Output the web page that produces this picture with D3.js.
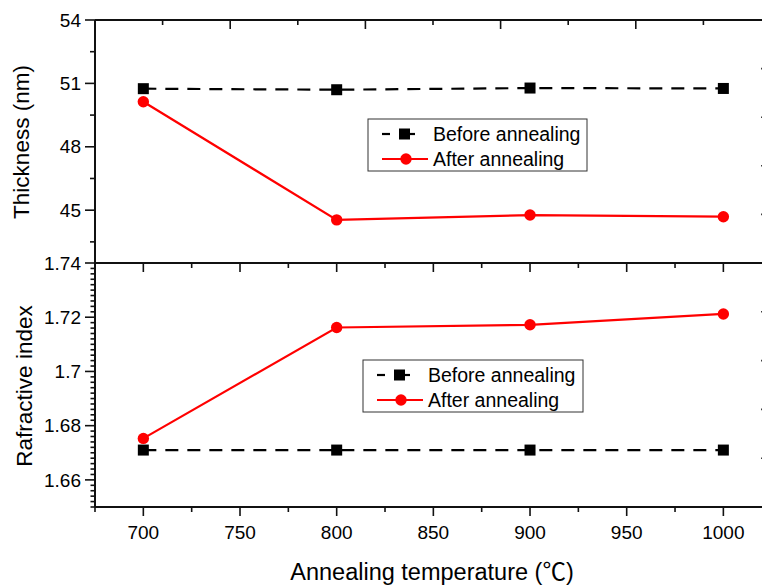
<!DOCTYPE html>
<html>
<head>
<meta charset="utf-8">
<script src="https://cdn.jsdelivr.net/npm/d3@7"></script>
<style>
  html, body { margin: 0; padding: 0; background: #fff; }
  svg { display: block; font-family: "Liberation Sans", Arial, "Noto Sans CJK SC", sans-serif; }
</style>
</head>
<body>
<svg id="chart" width="762" height="585"></svg>
<script>
// ---- data ----
const temps = [700, 800, 900, 1000];
const thickBefore = [50.75, 50.70, 50.78, 50.76];
const thickAfter = [50.13, 44.54, 44.77, 44.69];
const riBefore = [1.671, 1.671, 1.671, 1.671];
const riAfter = [1.6753, 1.7162, 1.7172, 1.7212];
const seriesNames = ["Before annealing", "After annealing"];
const xMajorTicks = [700, 750, 800, 850, 900, 950, 1000];
const xMinorTicks = [675, 725, 775, 825, 875, 925, 975, 1025];
const thickMajorTicks = [45, 48, 51, 54];
const thickMinorTicks = [43.5, 46.5, 49.5, 52.5];
const riMajorTicks = [1.66, 1.68, 1.70, 1.72, 1.74];
const riTickLabels = ["1.66", "1.68", "1.7", "1.72", "1.74"];
const riMinorTicks = d3.range(0, 46).map(i => +(1.65 + i * 0.002).toFixed(3)).filter(v => !riMajorTicks.some(m => Math.abs(m - v) < 1e-6));

const svg = d3.select("#chart");
const L = 95, R = 771.7, T = 20, MID = 263, B = 507;

const x = d3.scaleLinear().domain([675, 1025]).range([L, R]);
const yT = d3.scaleLinear().domain([42.5, 54]).range([MID, T]);
const yB = d3.scaleLinear().domain([1.65, 1.74]).range([B, MID]);
// secondary (unlabelled) axes from the composite figure
const xTop = d3.scaleLinear().domain([0, 10]).range([L, 771]);
const yRT = d3.scaleLinear().domain([0, 5]).range([MID, T]);
const yRB = d3.scaleLinear().domain([0, 5]).range([B, MID]);

const AX = "#111";
const g = svg.append("g");

// axis lines
g.append("line").attr("x1", L).attr("x2", 762).attr("y1", T).attr("y2", T).attr("stroke", AX).attr("stroke-width", 2);
g.append("line").attr("x1", L).attr("x2", 762).attr("y1", MID).attr("y2", MID).attr("stroke", AX).attr("stroke-width", 2);
g.append("line").attr("x1", L).attr("x2", 762).attr("y1", B).attr("y2", B).attr("stroke", AX).attr("stroke-width", 2);
g.append("line").attr("x1", L).attr("x2", L).attr("y1", T).attr("y2", B).attr("stroke", AX).attr("stroke-width", 2);

function ticks(data, fn) {
  g.append("g").selectAll("line").data(data).join("line")
    .each(function(d) { const c = fn(d); d3.select(this).attr("x1", c[0]).attr("y1", c[1]).attr("x2", c[2]).attr("y2", c[3]); })
    .attr("stroke", AX).attr("stroke-width", 1.6);
}

// top panel top axis (inward)
ticks(d3.range(1, 10), k => [xTop(k), T, xTop(k), T + (k % 2 === 0 ? 9 : 5)]);
// bottom panel top axis (inward) at MID
ticks(xMajorTicks, v => [x(v), MID, x(v), MID + 9]);
ticks(xMinorTicks.filter(v => x(v) < 762), v => [x(v), MID, x(v), MID + 5]);
// bottom axis (outward)
ticks(xMajorTicks, v => [x(v), B, x(v), B + 9]);
ticks(xMinorTicks.filter(v => x(v) < 762), v => [x(v), B, x(v), B + 5]);
// left axes (outward)
ticks(thickMajorTicks, v => [L - 10, yT(v), L, yT(v)]);
ticks(thickMinorTicks, v => [L - 5, yT(v), L, yT(v)]);
ticks(riMajorTicks, v => [L - 10, yB(v), L, yB(v)]);
ticks(riMinorTicks, v => [L - 4.5, yB(v), L, yB(v)]);
// right axes (inward, mostly off-canvas)
ticks(d3.range(1, 5), k => [R - 10.5, yRT(k), R, yRT(k)]);
ticks(d3.range(1, 5), k => [R - 10.5, yRB(k), R, yRB(k)]);

// tick labels
const FS = 19;
g.append("g").selectAll("text").data(thickMajorTicks).join("text")
  .attr("x", 81).attr("y", d => yT(d)).attr("dy", "0.35em").attr("text-anchor", "end")
  .attr("font-size", FS).text(d => d);
g.append("g").selectAll("text").data(riMajorTicks).join("text")
  .attr("x", 81).attr("y", d => yB(d)).attr("dy", "0.35em").attr("text-anchor", "end")
  .attr("font-size", FS).text((d, i) => riTickLabels[i]);
g.append("g").selectAll("text").data(xMajorTicks).join("text")
  .attr("x", d => x(d)).attr("y", 539).attr("text-anchor", "middle")
  .attr("font-size", FS).text(d => d);

// axis titles
g.append("text").attr("transform", "translate(29,142) rotate(-90)").attr("text-anchor", "middle")
  .attr("font-size", 22.5).text("Thickness (nm)");
g.append("text").attr("transform", "translate(32,386) rotate(-90)").attr("text-anchor", "middle")
  .attr("font-size", 22.5).text("Rafractive index");
g.append("text").attr("x", 432).attr("y", 580).attr("text-anchor", "middle")
  .attr("font-size", 23.5).text("Annealing temperature (℃)");

// series
function drawSeries(xs, ys, yScale, kind) {
  const pts = xs.map((t, i) => [x(t), yScale(ys[i])]);
  const line = d3.line();
  const p = g.append("path").attr("d", line(pts)).attr("fill", "none").attr("stroke-width", 2.2);
  if (kind === "before") {
    p.attr("stroke", "#000").attr("stroke-dasharray", "13,9");
    g.append("g").selectAll("rect").data(pts).join("rect")
      .attr("x", d => d[0] - 5.5).attr("y", d => d[1] - 5.5).attr("width", 11).attr("height", 11).attr("fill", "#000");
  } else {
    p.attr("stroke", "#ff0000");
    g.append("g").selectAll("circle").data(pts).join("circle")
      .attr("cx", d => d[0]).attr("cy", d => d[1]).attr("r", 5.7).attr("fill", "#ff0000");
  }
}
drawSeries(temps, thickBefore, yT, "before");
drawSeries(temps, thickAfter, yT, "after");
drawSeries(temps, riBefore, yB, "before");
drawSeries(temps, riAfter, yB, "after");

// legends
function legend(bx, by, bw, bh, lx, ty) {
  const lg = g.append("g");
  lg.append("rect").attr("x", bx).attr("y", by).attr("width", bw).attr("height", bh)
    .attr("fill", "#fff").attr("stroke", "#333").attr("stroke-width", 1);
  const r1 = ty[0], r2 = ty[1];
  lg.append("line").attr("x1", lx).attr("x2", lx + 8).attr("y1", r1).attr("y2", r1).attr("stroke", "#000").attr("stroke-width", 2.2);
  lg.append("line").attr("x1", lx + 17).attr("x2", lx + 33).attr("y1", r1).attr("y2", r1).attr("stroke", "#000").attr("stroke-width", 2.2);
  lg.append("rect").attr("x", lx + 17).attr("y", r1 - 5.5).attr("width", 11).attr("height", 11).attr("fill", "#000");
  lg.append("line").attr("x1", lx).attr("x2", lx + 46).attr("y1", r2).attr("y2", r2).attr("stroke", "#ff0000").attr("stroke-width", 2.2);
  lg.append("circle").attr("cx", lx + 24).attr("cy", r2).attr("r", 5.7).attr("fill", "#ff0000");
  lg.append("text").attr("x", lx + 51).attr("y", r1).attr("dy", "0.36em").attr("font-size", 19.5).text(seriesNames[0]);
  lg.append("text").attr("x", lx + 51).attr("y", r2).attr("dy", "0.36em").attr("font-size", 19.5).text(seriesNames[1]);
}
legend(368, 119, 219, 52, 382, [134, 159]);
legend(363, 360, 220, 52, 377, [375, 400]);
</script>
</body>
</html>
